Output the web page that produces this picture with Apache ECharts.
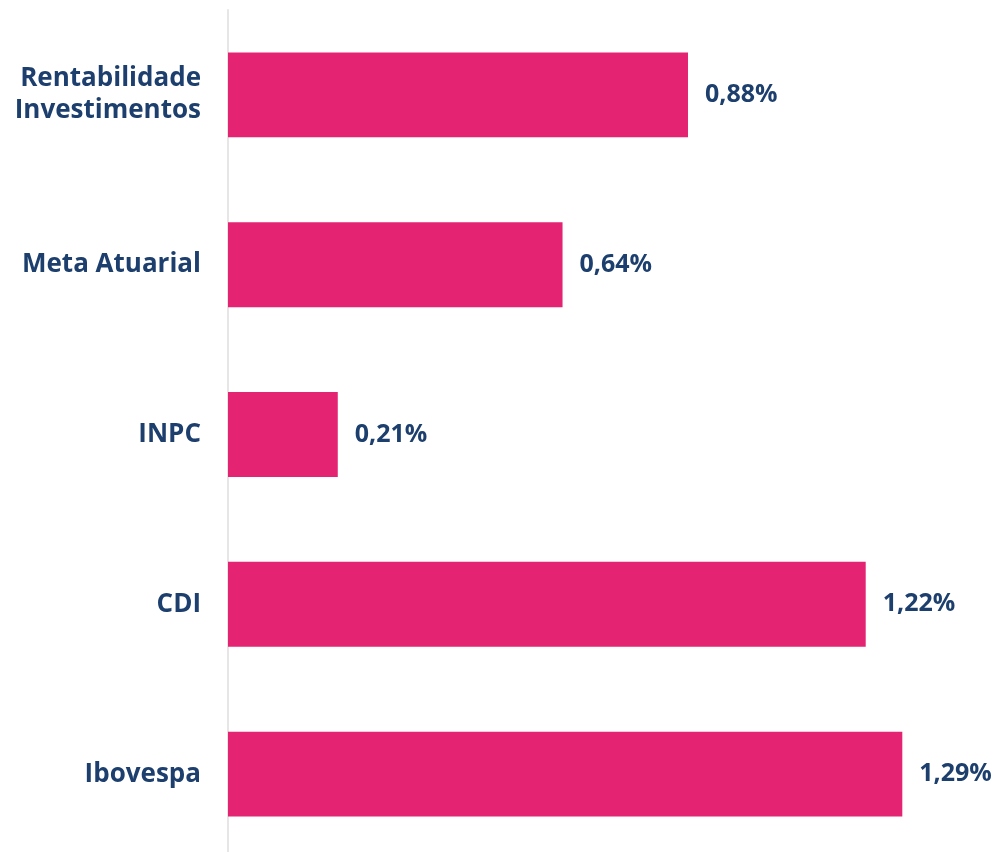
<!DOCTYPE html>
<html>
<head>
<meta charset="utf-8">
<script src="https://cdn.jsdelivr.net/npm/echarts@6/dist/echarts.min.js"></script>
<style>
  html, body { margin: 0; padding: 0; background: #fff; overflow: hidden; }
  #chart { width: 996px; height: 860px; }
</style>
</head>
<body>
<div id="chart"></div>
<script>
const categories = ["Rentabilidade\nInvestimentos", "Meta Atuarial", "INPC", "CDI", "Ibovespa"];
const values = [0.88, 0.64, 0.21, 1.22, 1.29];

const navy = "#1d3f6e";
const pink = "#e42372";

const chart = echarts.init(document.getElementById("chart"));
chart.setOption({
  backgroundColor: "#fff",
  animation: false,
  grid: { left: 228, width: 731.8, top: 10, height: 849, containLabel: false },
  xAxis: {
    type: "value",
    min: 0,
    max: 1.4,
    show: false,
  },
  yAxis: {
    type: "category",
    inverse: true,
    data: categories,
    axisLine: { show: true, lineStyle: { color: "#e6e6e6", width: 2 } },
    axisTick: { show: false },
    axisLabel: {
      margin: 27,
      color: navy,
      fontFamily: "Open Sans",
      fontWeight: "bold",
      fontSize: 26,
      lineHeight: 32,
      align: "right",
    },
  },
  series: [
    {
      type: "bar",
      data: values,
      barWidth: "50%",
      itemStyle: { color: pink },
      label: {
        show: true,
        position: "right",
        distance: 17,
        color: navy,
        fontFamily: "Open Sans",
        fontWeight: "bold",
        fontSize: 25,
        formatter: (p) => p.value.toFixed(2).replace(".", ",") + "%",
      },
    },
  ],
});
</script>
</body>
</html>
